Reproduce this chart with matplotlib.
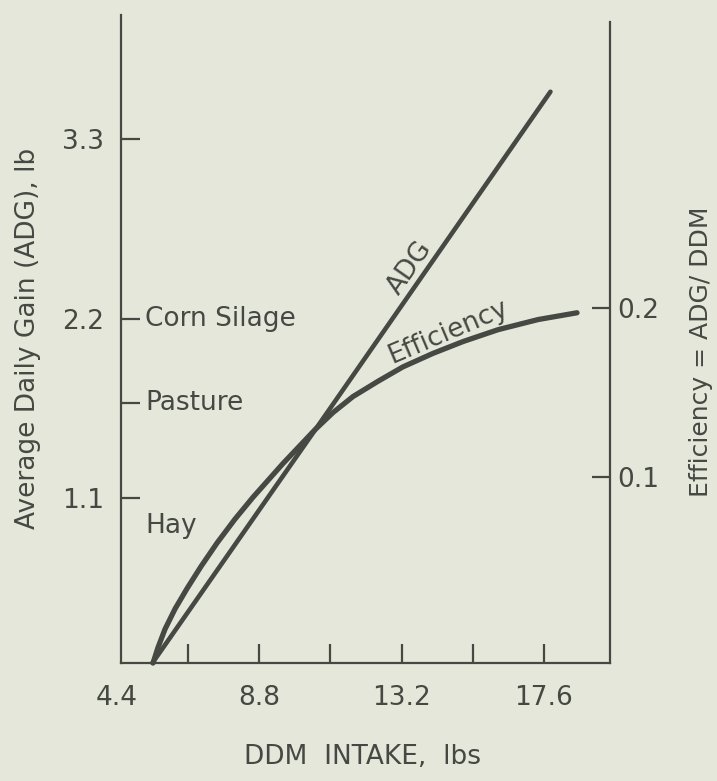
import matplotlib
matplotlib.use("Agg")
import matplotlib.pyplot as plt

# ADG (left axis, lb) vs DDM intake (lbs)
adg_x = [5.5, 10.5, 17.8]
adg_y = [0.09, 1.51, 3.59]

# Efficiency = ADG/DDM (right axis)
eff_x = [5.52, 5.67, 5.89, 6.20, 6.57, 7.00, 7.50, 8.05, 8.61, 9.54,
         10.53, 11.08, 11.70, 12.47, 13.24, 14.17, 15.10, 16.18, 17.42, 18.62]
eff_y = [-0.010, -0.001, 0.010, 0.022, 0.034, 0.047, 0.061, 0.075, 0.088, 0.108,
         0.128, 0.138, 0.1475, 0.1565, 0.165, 0.173, 0.180, 0.187, 0.193, 0.197]

# forage markers on the ADG axis
forage_names = ['Corn Silage', 'Pasture', 'Hay']
forage_adg = [2.2, 1.68, 0.93]
forage_tick = [True, True, False]

x_ticks = [6.6, 8.8, 11.0, 13.2, 15.4, 17.6]
x_labels = ['', '8.8', '', '13.2', '', '17.6']
adg_ticks = [1.1, 2.2, 3.3]
eff_ticks = [0.1, 0.2]

BG = '#e4e7d9'
INK = '#464943'
FS = 19

plt.rcParams['font.family'] = ['DejaVu Sans']

fig = plt.figure(figsize=(7.17, 7.81), dpi=100, facecolor=BG)
ax = fig.add_axes([121 / 717, 118 / 781, 489 / 717, 648 / 781])
ax.set_facecolor('none')
ax2 = ax.twinx()
ax2.set_facecolor('none')

ax.set_xlim(4.53, 19.64)
ax.set_ylim(0.09, 4.06)
ax2.set_ylim(-0.010, 0.373)

# curves
ax.plot(adg_x, adg_y, color=INK, lw=3.3, solid_capstyle='round', clip_on=False)
ax2.plot(eff_x, eff_y, color=INK, lw=3.8, solid_capstyle='round',
         solid_joinstyle='round', clip_on=False)

# spines
for a in (ax, ax2):
    a.spines['top'].set_visible(False)
    for s in a.spines.values():
        s.set_color(INK)
        s.set_linewidth(1.6)
ax.spines['right'].set_visible(False)
ax2.spines['left'].set_visible(False)
ax2.spines['bottom'].set_visible(False)
ax2.spines['right'].set_bounds(-0.010, 0.369)

# x axis
ax.set_xticks(x_ticks)
ax.set_xticklabels(x_labels)
ax.tick_params(axis='x', direction='in', length=14, width=1.6, color=INK,
               pad=16, labelsize=FS, labelcolor=INK)
ax.text(4.4, -0.034, '4.4', transform=ax.get_xaxis_transform(), ha='center',
        va='top', fontsize=FS, color=INK, clip_on=False)

# left axis
ax.set_yticks(adg_ticks)
ax.set_yticklabels(['%.1f' % v for v in adg_ticks])
ax.set_yticks([v for v, t in zip(forage_adg, forage_tick) if t and v not in adg_ticks],
              minor=True)
ax.tick_params(axis='y', which='both', direction='in', length=14, width=1.6,
               color=INK, pad=12, labelsize=FS, labelcolor=INK)
for name, v in zip(forage_names, forage_adg):
    ax.text(4.53 + 24 / 32.36, v, name, ha='left', va='center', fontsize=FS,
            color=INK)

# right axis
ax2.set_yticks(eff_ticks)
ax2.set_yticklabels(['%.1f' % v for v in eff_ticks])
ax2.tick_params(axis='y', direction='in', length=13, width=1.6, color=INK,
                pad=5, labelsize=FS, labelcolor=INK)

# curve labels
ax.text(13.46, 2.51, 'ADG', rotation=55, rotation_mode='anchor', ha='center',
        va='center', fontsize=FS, color=INK)
ax.text(14.63, 2.12, 'Efficiency', rotation=23, rotation_mode='anchor',
        ha='center', va='center', fontsize=FS, color=INK)

# axis titles
fig.text(362 / 717, 1 - 757 / 781, 'DDM  INTAKE,  lbs', ha='center',
         va='center', fontsize=FS, color=INK)
fig.text(28 / 717, 1 - 338 / 781, 'Average Daily Gain (ADG), lb', rotation=90,
         ha='center', va='center', fontsize=FS, color=INK)
fig.text(701 / 717, 1 - 352 / 781, 'Efficiency = ADG/ DDM', rotation=90,
         ha='center', va='center', fontsize=18, color=INK)

fig.savefig('out.png', dpi=100, facecolor=BG)
